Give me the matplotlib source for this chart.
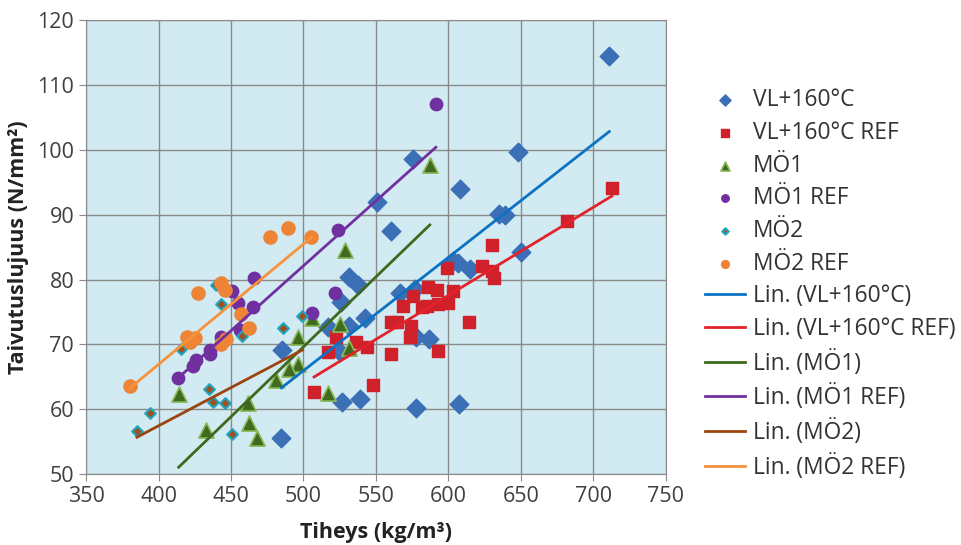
import numpy as np
import matplotlib.pyplot as plt

plt.rcParams["font.family"] = ["Open Sans", "DejaVu Sans"]

# VL+160°C (blue diamonds)
vl_x = [710.9, 648.1, 575.2, 607.9, 550.8, 635.0, 639.0, 560.2, 649.8, 603.0,
        606.5, 614.8, 566.9, 576.8, 577.3, 586.7, 577.3, 607.2, 531.2, 537.7,
        526.2, 542.3, 516.9, 531.2, 525.0, 485.4, 526.6, 539.3, 484.8]
vl_y = [114.5, 99.6, 98.6, 94.0, 92.0, 90.1, 90.0, 87.5, 84.2, 82.9,
        82.5, 81.7, 77.9, 78.5, 71.2, 70.8, 60.2, 60.8, 80.4, 79.2,
        76.6, 74.0, 72.7, 72.8, 68.9, 69.2, 61.1, 61.6, 55.5]

# VL+160°C REF (red squares)
vlref_x = [712.8, 681.5, 630.2, 599.1, 623.3, 629.7, 631.5, 575.2, 586.0, 591.8,
           603.3, 568.7, 581.9, 585.3, 592.5, 599.4, 614.1, 560.2, 564.6, 574.0,
           573.3, 592.9, 560.2, 548.0, 543.6, 522.2, 536.5, 517.0, 507.3]
vlref_y = [94.1, 89.0, 85.4, 81.8, 82.1, 81.3, 80.3, 77.5, 78.8, 78.4,
           78.2, 76.0, 75.8, 76.0, 76.3, 76.4, 73.4, 73.4, 73.4, 72.8,
           71.2, 69.0, 68.5, 63.8, 69.6, 71.1, 70.4, 68.9, 62.6]

# MÖ1 (green triangles)
mo1_x = [587.1, 528.5, 506.2, 525.0, 531.2, 496.2, 496.0, 490.0, 481.3, 517.0,
         413.9, 432.5, 461.7, 462.4, 468.2]
mo1_y = [97.6, 84.5, 74.0, 73.2, 69.4, 71.1, 67.0, 66.2, 64.5, 62.5,
         62.3, 56.8, 61.0, 57.9, 55.5]

# MÖ1 REF (purple circles)
mo1ref_x = [591.3, 523.8, 521.6, 506.2, 465.8, 450.9, 454.8, 465.2, 456.0, 443.3,
            435.7, 435.3, 426.1, 423.7, 413.4]
mo1ref_y = [107.1, 87.6, 78.0, 74.8, 80.3, 78.3, 76.4, 75.8, 72.2, 71.2,
            69.2, 68.5, 67.6, 66.6, 64.9]

# MÖ2 (small diamonds)
mo2_x = [439.4, 442.9, 457.8, 485.9, 499.3, 415.7, 434.6, 437.5, 445.6, 394.3,
         385.1, 450.7]
mo2_y = [79.2, 76.2, 71.3, 72.6, 74.4, 69.3, 63.2, 61.2, 60.9, 59.4,
         56.6, 56.2]

# MÖ2 REF (orange circles)
mo2ref_x = [476.7, 489.3, 505.5, 427.2, 443.3, 445.6, 457.1, 462.4, 419.6, 424.9,
            421.4, 443.3, 446.8, 380.5]
mo2ref_y = [86.5, 88.0, 86.5, 78.0, 79.4, 78.4, 74.7, 72.5, 71.2, 71.0,
            70.4, 70.0, 70.9, 63.6]

# linear trend coefficients (y = k*x + b)
trend_k = [0.1748, 0.1358, 0.2157, 0.2001, 0.1178, 0.1856]
trend_b = [-21.44, -3.90, -38.21, -17.92, 10.33, -7.32]

series = [
    ("VL+160°C", vl_x, vl_y, dict(marker="D", s=90, c="#3b6fb6", edgecolors="#3b6fb6")),
    ("VL+160°C REF", vlref_x, vlref_y, dict(marker="s", s=80, c="#d0212a", edgecolors="#d0212a")),
    ("MÖ1", mo1_x, mo1_y, dict(marker="^", s=120, c="#3e6b1f", edgecolors="#8dbb5a", linewidths=1.2)),
    ("MÖ1 REF", mo1ref_x, mo1ref_y, dict(marker="o", s=80, c="#7030a0", edgecolors="#7030a0")),
    ("MÖ2", mo2_x, mo2_y, dict(marker="D", s=30, c="#a0501e", edgecolors="#1ea7c0", linewidths=1.5)),
    ("MÖ2 REF", mo2ref_x, mo2ref_y, dict(marker="o", s=90, c="#ed8436", edgecolors="#ed8436")),
]
trend_colors = ["#0b72c4", "#e3222a", "#3f6a1d", "#7030a0", "#9a4410", "#f7923a"]

fig = plt.figure(figsize=(9.61, 5.45), dpi=100)
ax = fig.add_axes([0.0895, 0.13, 0.6035, 0.833])
ax.set_facecolor("#d2eaf2")

for label, xs, ys, style in series:
    ax.scatter(xs, ys, label=label, zorder=3, **style)

# Linear trend lines over each series range
for (label, xs, ys, _), col, k, b in zip(series, trend_colors, trend_k, trend_b):
    xl = np.array([min(xs), max(xs)])
    ax.plot(xl, k * xl + b, color=col, lw=2, label=f"Lin. ({label})", zorder=4)

ax.set_xlim(350, 750)
ax.set_ylim(50, 120)
ax.set_xticks(np.arange(350, 751, 50))
ax.set_yticks(np.arange(50, 121, 10))
ax.grid(True, color="#8a8a8a", lw=1)
ax.set_axisbelow(True)
for sp in ax.spines.values():
    sp.set_color("#8a8a8a")
ax.tick_params(colors="#8a8a8a", labelcolor="#404040", labelsize=15.5, length=5)
ax.set_xlabel("Tiheys (kg/m³)", fontsize=15.5, fontweight="bold", color="#222222",
              labelpad=11)
ax.set_ylabel("Taivutuslujuus (N/mm²)", fontsize=15.5, fontweight="bold", color="#222222",
              labelpad=6)

ax.legend(loc="upper left", bbox_to_anchor=(705 / 961, 0.838), bbox_transform=fig.transFigure,
          frameon=False, borderpad=0, borderaxespad=0,
          fontsize=16.4, labelspacing=0.38, handlelength=1.75, handletextpad=0.35,
          markerscale=0.6, labelcolor="#333333")

fig.savefig("out.png", dpi=100)
